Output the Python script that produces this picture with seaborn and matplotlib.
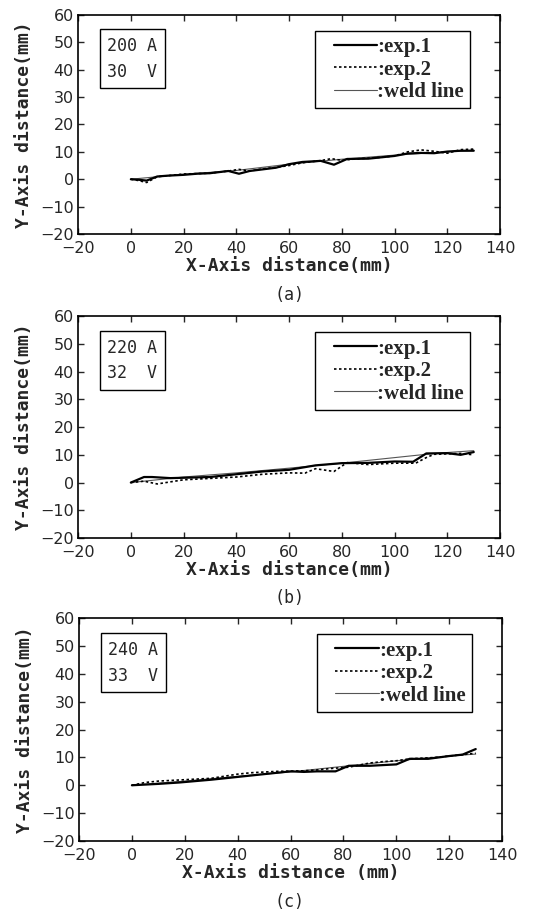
import matplotlib
matplotlib.use("Agg")
import matplotlib.pyplot as plt
import seaborn as sns
from matplotlib.lines import Line2D
from matplotlib.legend_handler import HandlerLine2D

# ---------------- data ----------------
a_exp1_x = [0, 3, 6, 10, 14, 20, 25, 30, 37, 41, 45, 50, 55, 60, 65, 72, 77, 82, 90, 100, 105, 110, 115, 120, 125, 130]
a_exp1_y = [0, -0.2, -0.5, 1.0, 1.3, 1.6, 2.0, 2.2, 3.0, 2.0, 3.0, 3.6, 4.2, 5.5, 6.3, 6.7, 5.3, 7.4, 7.5, 8.5, 9.4, 9.6, 9.5, 10.1, 10.4, 10.4]
a_exp2_x = [0, 3, 6, 10, 15, 20, 30, 37, 41, 45, 50, 55, 60, 65, 72, 76, 80, 85, 95, 100, 105, 110, 115, 120, 125, 130]
a_exp2_y = [0, -0.5, -1.2, 0.9, 1.4, 1.9, 2.2, 3.0, 3.6, 3.0, 3.8, 4.3, 5.0, 6.0, 6.8, 7.5, 6.9, 7.4, 8.0, 8.5, 10.0, 10.7, 10.2, 9.5, 10.8, 11.0]
a_weld_x = [0, 20, 40, 60, 80, 100, 120, 130]
a_weld_y = [0, 1.8, 3.2, 5.5, 7.3, 8.8, 10.0, 10.6]

b_exp1_x = [0, 5, 8, 15, 30, 40, 50, 60, 70, 80, 90, 100, 107, 112, 120, 125, 130]
b_exp1_y = [0, 2.0, 2.0, 1.6, 2.0, 3.0, 4.0, 4.6, 6.2, 7.0, 7.1, 7.6, 7.5, 10.5, 10.6, 10.0, 11.0]
b_exp2_x = [0, 5, 10, 20, 30, 40, 50, 60, 66, 70, 77, 82, 90, 100, 108, 112, 115, 125, 130]
b_exp2_y = [0, 0.5, -0.5, 1.0, 1.5, 2.0, 3.0, 3.5, 3.4, 5.0, 4.0, 7.2, 6.5, 7.0, 7.0, 9.0, 10.2, 10.5, 10.0]
b_weld_x = [0, 20, 40, 60, 80, 100, 115, 130]
b_weld_y = [0, 2.0, 3.5, 5.2, 7.0, 9.0, 10.5, 11.5]

c_exp1_x = [0, 10, 18, 30, 40, 50, 60, 65, 70, 77, 82, 90, 100, 105, 112, 120, 125, 130]
c_exp1_y = [0, 0.5, 1.0, 2.0, 3.0, 4.0, 5.0, 4.8, 5.0, 5.0, 7.0, 7.0, 7.5, 9.5, 9.5, 10.5, 11.0, 13.0]
c_exp2_x = [0, 5, 10, 20, 30, 40, 45, 55, 65, 70, 75, 82, 90, 95, 100, 105, 115, 125, 130]
c_exp2_y = [0, 1.0, 1.5, 2.0, 2.5, 4.0, 4.5, 5.0, 5.2, 5.5, 6.0, 6.5, 8.0, 8.5, 8.8, 9.5, 10.0, 11.0, 11.5]
c_weld_x = [0, 20, 40, 60, 80, 100, 120, 130]
c_weld_y = [0, 1.5, 3.2, 4.8, 6.8, 8.8, 10.5, 11.2]

conditions = ["200 A\n30  V", "220 A\n32  V", "240 A\n33  V"]
panel_tags = ["(a)", "(b)", "(c)"]
xlabels = ["X-Axis distance(mm)", "X-Axis distance(mm)", "X-Axis distance (mm)"]
ylabel = "Y-Axis distance(mm)"
legend_labels = [":exp.1", ":exp.2", ":weld line"]
xticks = [-20, 0, 20, 40, 60, 80, 100, 120, 140]
yticks = [-20, -10, 0, 10, 20, 30, 40, 50, 60]

panels = [
    (a_exp1_x, a_exp1_y, a_exp2_x, a_exp2_y, a_weld_x, a_weld_y),
    (b_exp1_x, b_exp1_y, b_exp2_x, b_exp2_y, b_weld_x, b_weld_y),
    (c_exp1_x, c_exp1_y, c_exp2_x, c_exp2_y, c_weld_x, c_weld_y),
]

# ---------------- style ----------------
sns.set_style("ticks")
plt.rcParams['font.family'] = ['DejaVu Sans']
plt.rcParams['xtick.direction'] = 'in'
plt.rcParams['ytick.direction'] = 'in'

fig = plt.figure(figsize=(5.46, 9.13), dpi=100)
positions = [
    [0.143, 0.7437, 0.773, 0.240],
    [0.143, 0.4107, 0.773, 0.243],
    [0.1447, 0.0789, 0.775, 0.244],
]
tag_y = [0.677, 0.345, 0.012]

mono = 'DejaVu Sans Mono'
serif = 'Liberation Serif'

for i, pos in enumerate(positions):
    ax = fig.add_axes(pos)
    e1x, e1y, e2x, e2y, wx, wy = panels[i]
    sns.lineplot(x=wx, y=wy, ax=ax, color='#555555', lw=0.8, estimator=None, sort=False)
    sns.lineplot(x=e2x, y=e2y, ax=ax, color='black', lw=1.2, linestyle=(0, (1.5, 1.5)), estimator=None, sort=False)
    sns.lineplot(x=e1x, y=e1y, ax=ax, color='black', lw=1.6, estimator=None, sort=False)
    ax.set_xlim(-20, 140)
    ax.set_ylim(-20, 60)
    ax.set_xticks(xticks)
    ax.set_yticks(yticks)
    ax.set_xticklabels([str(t).replace('-', '\u2212') for t in xticks], fontsize=11.5)
    ax.set_yticklabels([str(t).replace('-', '\u2212') for t in yticks], fontsize=11.5)
    ax.tick_params(axis='x', which='major', length=4, width=1, top=True, pad=5)
    ax.tick_params(axis='y', which='major', length=4, width=1, right=True, pad=3)
    for s in ax.spines.values():
        s.set_linewidth(1.2)
        s.set_color('black')
    ax.set_xlabel(xlabels[i], family=mono, fontweight='bold', fontsize=13, labelpad=1)
    ax.set_ylabel(ylabel, family=mono, fontweight='bold', fontsize=13, labelpad=5)

    ax.text(0.128, 0.80, conditions[i], transform=ax.transAxes, ha='center', va='center',
            family=mono, fontsize=12, linespacing=1.55,
            bbox=dict(boxstyle='square,pad=0.45', fc='white', ec='black', lw=1.0))

    handles = [Line2D([0], [0], color='black', lw=1.6),
               Line2D([0], [0], color='black', lw=1.2, linestyle=(0, (1.5, 1.5))),
               Line2D([0], [0], color='#555555', lw=0.8)]
    hmap = {h: HandlerLine2D(xpad=0.6) for h in handles}
    leg = ax.legend(handles, legend_labels, loc='upper right', bbox_to_anchor=(0.929, 0.927),
                    frameon=True, fancybox=False, edgecolor='black', framealpha=1,
                    handlelength=2.7, handletextpad=0.0, borderpad=0.3, labelspacing=0.12,
                    prop={'family': serif, 'size': 15, 'weight': 'bold'}, borderaxespad=0,
                    handler_map=hmap)
    leg.get_frame().set_linewidth(1.0)

    fig.text(0.53, tag_y[i], panel_tags[i], ha='center', va='center', family=mono, fontsize=12)

fig.savefig("out.png", dpi=100)
